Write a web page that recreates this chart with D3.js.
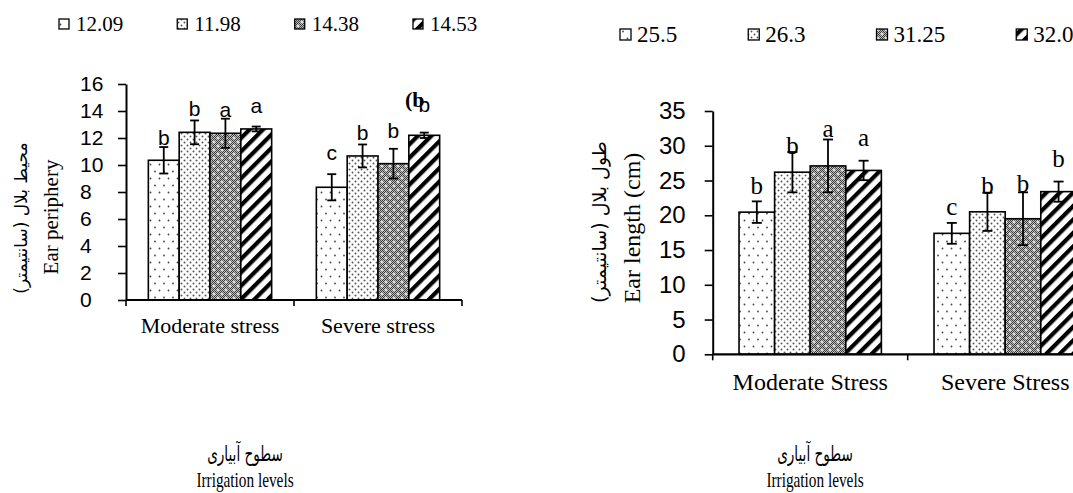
<!DOCTYPE html>
<html>
<head>
<meta charset="utf-8">
<script src="https://cdn.jsdelivr.net/npm/d3@7"></script>
<style>
  body { margin: 0; background: #fff; }
  svg { display: block; overflow: hidden; }
</style>
</head>
<body>
<script>
// left panel: ear periphery
const catsLeft = ["Moderate stress", "Severe stress"];
const legendLeft = ["12.09", "11.98", "14.38", "14.53"];
const periphery = [[10.35, 12.42, 12.35, 12.67], [8.35, 10.67, 10.1, 12.2]];
const peripheryErr = [[0.98, 0.88, 1.08, 0.18], [0.97, 0.85, 1.1, 0.2]];
const peripheryLetters = [["b", "b", "a", "a"], ["c", "b", "b", "b"]];
const peripheryLetterAt = [[11.5, 13.6, 13.55, 13.85], [10.4, 11.85, 12.0, 13.9]];
const ticksLeft = [0, 2, 4, 6, 8, 10, 12, 14, 16];

// right panel: ear length
const catsRight = ["Moderate Stress", "Severe Stress"];
const legendRight = ["25.5", "26.3", "31.25", "32.0"];
const earLength = [[20.45, 26.2, 27.1, 26.45], [17.4, 20.5, 19.5, 23.4]];
const earLengthErr = [[1.55, 2.9, 3.8, 1.4], [1.5, 2.75, 3.8, 1.45]];
const earLengthLetters = [["b", "b", "a", "a"], ["c", "b", "b", "b"]];
const earLengthLetterAt = [[23.1, 28.8, 31.3, 29.9], [20.0, 23.1, 23.3, 26.9]];
const ticksRight = [0, 5, 10, 15, 20, 25, 30, 35];

const svg = d3.select("body").append("svg")
  .attr("width", 1073)
  .attr("height", 493);

const defs = svg.append("defs");

// fill patterns (excel style)
const p1 = defs.append("pattern").attr("id", "pat0")
  .attr("patternUnits", "userSpaceOnUse").attr("width", 9).attr("height", 14);
p1.append("rect").attr("width", 9).attr("height", 14).attr("fill", "#fff");
p1.append("circle").attr("cx", 2).attr("cy", 3.5).attr("r", 0.9).attr("fill", "#444");
p1.append("circle").attr("cx", 6.5).attr("cy", 10.5).attr("r", 0.9).attr("fill", "#444");

const p2 = defs.append("pattern").attr("id", "pat1")
  .attr("patternUnits", "userSpaceOnUse").attr("width", 6).attr("height", 6);
p2.append("rect").attr("width", 6).attr("height", 6).attr("fill", "#fff");
p2.append("circle").attr("cx", 1.5).attr("cy", 1.5).attr("r", 0.95).attr("fill", "#555");
p2.append("circle").attr("cx", 4.5).attr("cy", 4.5).attr("r", 0.95).attr("fill", "#555");

const chk = defs.append("pattern").attr("id", "chk")
  .attr("patternUnits", "userSpaceOnUse").attr("width", 2).attr("height", 2);
chk.append("rect").attr("width", 2).attr("height", 2).attr("fill", "#bdbdbd");
chk.append("rect").attr("width", 1).attr("height", 1).attr("fill", "#3a3a3a");
chk.append("rect").attr("x", 1).attr("y", 1).attr("width", 1).attr("height", 1).attr("fill", "#3a3a3a");

const p3 = defs.append("pattern").attr("id", "pat2")
  .attr("patternUnits", "userSpaceOnUse").attr("width", 8).attr("height", 8);
p3.append("rect").attr("width", 8).attr("height", 8).attr("fill", "url(#chk)");
[[2, 2], [6, 6]].forEach(d => {
  p3.append("rect").attr("x", d[0] - 1.5).attr("y", d[1] - 0.5).attr("width", 3).attr("height", 1).attr("fill", "#fff");
  p3.append("rect").attr("x", d[0] - 0.5).attr("y", d[1] - 1.5).attr("width", 1).attr("height", 3).attr("fill", "#fff");
});

const p4 = defs.append("pattern").attr("id", "pat3")
  .attr("patternUnits", "userSpaceOnUse").attr("width", 9.5).attr("height", 10)
  .attr("patternTransform", "rotate(45)");
p4.append("rect").attr("width", 9.5).attr("height", 10).attr("fill", "#fff");
p4.append("rect").attr("width", 4.2).attr("height", 10).attr("fill", "#000");

const serif = "'Liberation Serif', 'Times New Roman', serif";
const sans = "'Liberation Sans', Arial, sans-serif";
const arabic = "'DejaVu Sans', sans-serif";

function panel(o) {
  const g = svg.append("g");
  const x = d3.scaleBand().domain(o.cats).range([o.x0, o.x1]);
  const bw = x.bandwidth();
  const sub = d3.scaleBand().domain(d3.range(4)).range([bw * o.pad, bw * (1 - o.pad)]);
  const y = d3.scaleLinear().domain([0, o.max]).range([o.yb, o.yt]);

  // y axis
  const ya = g.append("g")
    .attr("transform", "translate(" + o.x0 + ",0)")
    .call(d3.axisLeft(y).tickValues(o.ticks).tickSize(8).tickSizeOuter(0));
  ya.select(".domain").attr("stroke", "#000").attr("stroke-width", 2);
  ya.selectAll(".tick line").attr("stroke", "#000").attr("stroke-width", 1.6);
  ya.selectAll(".tick text")
    .attr("font-family", sans)
    .attr("font-size", o.tickSize)
    .attr("fill", "#000")
    .attr("text-anchor", o.tickAnchor)
    .attr("x", o.tickX);

  // bars
  const rows = [];
  o.cats.forEach((c, ci) => {
    o.values[ci].forEach((v, si) => {
      rows.push({ c: c, s: si, v: v, e: o.err[ci][si], l: o.letters[ci][si], la: o.letterAt[ci][si] });
    });
  });

  g.selectAll(".bar").data(rows).enter().append("rect")
    .attr("class", "bar")
    .attr("x", d => x(d.c) + sub(d.s))
    .attr("y", d => y(d.v))
    .attr("width", sub.bandwidth())
    .attr("height", d => y(0) - y(d.v))
    .attr("fill", d => "url(#pat" + d.s + ")")
    .attr("stroke", "#000")
    .attr("stroke-width", 1.6);

  // error bars
  const eb = g.selectAll(".err").data(rows).enter().append("g").attr("class", "err")
    .attr("stroke", "#000").attr("stroke-width", 1.8);
  const cx = d => x(d.c) + sub(d.s) + sub.bandwidth() / 2;
  eb.append("line")
    .attr("x1", cx).attr("x2", cx)
    .attr("y1", d => y(d.v - d.e)).attr("y2", d => y(d.v + d.e));
  eb.append("line")
    .attr("x1", d => cx(d) - o.cap).attr("x2", d => cx(d) + o.cap)
    .attr("y1", d => y(d.v + d.e)).attr("y2", d => y(d.v + d.e));
  eb.append("line")
    .attr("x1", d => cx(d) - o.cap).attr("x2", d => cx(d) + o.cap)
    .attr("y1", d => y(d.v - d.e)).attr("y2", d => y(d.v - d.e));

  // letters
  g.selectAll(".letter").data(rows).enter().append("text")
    .attr("class", "letter")
    .attr("x", cx)
    .attr("y", d => y(d.la))
    .attr("text-anchor", "middle")
    .attr("font-family", o.letterFont)
    .attr("font-size", o.letterSize)
    .text(d => d.l);

  // x axis
  g.append("line")
    .attr("x1", o.x0).attr("x2", o.x1)
    .attr("y1", o.yb).attr("y2", o.yb)
    .attr("stroke", "#000").attr("stroke-width", 2.2);
  const bounds = [o.x0].concat(o.cats.map(c => x(c) + bw));
  g.selectAll(".xtick").data(bounds).enter().append("line")
    .attr("x1", d => d).attr("x2", d => d)
    .attr("y1", o.yb).attr("y2", o.yb + 6)
    .attr("stroke", "#000").attr("stroke-width", 1.6);
  g.selectAll(".xlab").data(o.cats).enter().append("text")
    .attr("x", d => x(d) + bw / 2)
    .attr("y", o.yb + o.catDy)
    .attr("text-anchor", "middle")
    .attr("font-family", serif)
    .attr("font-size", o.catSize)
    .text(d => d);

  // legend
  let lx = o.legX;
  o.legend.forEach((t, i) => {
    g.append("rect")
      .attr("x", lx).attr("y", o.legY - o.sw)
      .attr("width", o.sw).attr("height", o.sw)
      .attr("fill", "url(#pat" + i + ")")
      .attr("stroke", "#000").attr("stroke-width", 1.3);
    const tx = g.append("text")
      .attr("x", lx + o.sw + o.legPad)
      .attr("y", o.legY + 2)
      .attr("font-family", serif)
      .attr("font-size", o.legSize)
      .text(t);
    lx += o.sw + o.legPad + tx.node().getComputedTextLength() + o.legGap;
  });

  // y titles
  g.append("text")
    .attr("transform", "translate(" + o.faX + "," + o.faY + ") rotate(-90)")
    .attr("text-anchor", "middle")
    .style("direction", "rtl")
    .attr("font-family", arabic)
    .attr("font-size", o.faSize)
    .text(o.faTitle);
  g.append("text")
    .attr("transform", "translate(" + o.enX + "," + o.enY + ") rotate(-90)")
    .attr("text-anchor", "middle")
    .attr("font-family", serif)
    .attr("font-size", o.enSize)
    .text(o.enTitle);

  // bottom titles
  g.append("text")
    .attr("transform", "translate(" + o.botX + ",461) scale(0.8,1.25)")
    .attr("text-anchor", "middle")
    .style("direction", "rtl")
    .attr("font-family", arabic)
    .attr("font-size", 17)
    .text("سطوح آبیاری");
  g.append("text")
    .attr("transform", "translate(" + o.botX + ",487) scale(0.9,1.2)")
    .attr("text-anchor", "middle")
    .attr("font-family", serif)
    .attr("font-size", 17)
    .text("Irrigation levels");
  return g;
}

const left = panel({
  cats: catsLeft, values: periphery, err: peripheryErr,
  letters: peripheryLetters, letterAt: peripheryLetterAt,
  ticks: ticksLeft, max: 16,
  x0: 126, x1: 462, yb: 300, yt: 84, pad: 0.133,
  tickSize: 21, tickAnchor: "start", tickX: -46,
  cap: 4.5, letterFont: sans, letterSize: 21,
  catDy: 33, catSize: 22,
  legend: legendLeft, legX: 59, legY: 29, sw: 10, legPad: 7, legSize: 21, legGap: 54,
  faTitle: "محیط بلال (سانتیمتر)", faX: 27, faY: 218, faSize: 17,
  enTitle: "Ear periphery", enX: 58, enY: 217, enSize: 21,
  botX: 245
});

// panel label
left.append("text")
  .attr("x", 405).attr("y", 107)
  .attr("font-family", serif)
  .attr("font-weight", "bold")
  .attr("font-size", 22)
  .text("(b");

panel({
  cats: catsRight, values: earLength, err: earLengthErr,
  letters: earLengthLetters, letterAt: earLengthLetterAt,
  ticks: ticksRight, max: 35,
  x0: 712.7, x1: 1102.7, yb: 354.3, yt: 111, pad: 0.135,
  tickSize: 24, tickAnchor: "end", tickX: -27,
  cap: 5, letterFont: serif, letterSize: 25,
  catDy: 36, catSize: 24,
  legend: legendRight, legX: 620, legY: 40, sw: 11, legPad: 6, legSize: 23, legGap: 71,
  faTitle: "طول بلال (سانتیمتر)", faX: 606, faY: 222, faSize: 19,
  enX: 640, enY: 228, enTitle: "Ear length (cm)", enSize: 24,
  botX: 815
});
</script>
</body>
</html>
